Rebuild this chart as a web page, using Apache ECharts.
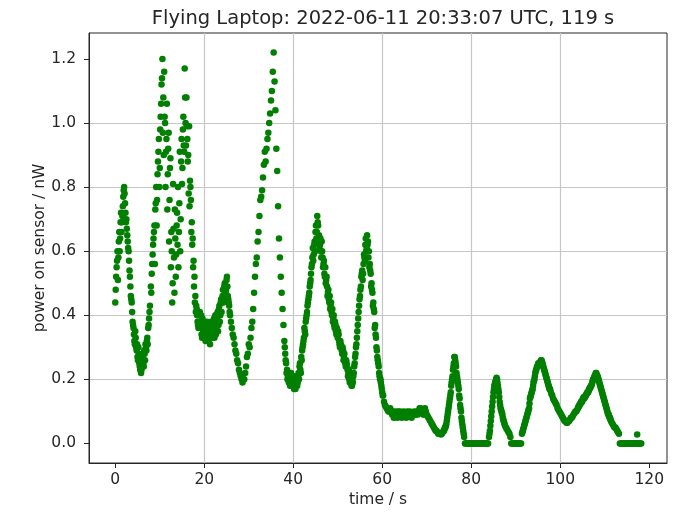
<!DOCTYPE html>
<html>
<head>
<meta charset="utf-8">
<script src="https://cdn.jsdelivr.net/npm/echarts@6/dist/echarts.min.js"></script>
<style>
html,body{margin:0;padding:0;background:#fff;}
#chart{width:689px;height:513px;}
</style>
</head>
<body>
<div id="chart"></div>
<script>
const titleText = 'Flying Laptop: 2022-06-11 20:33:07 UTC, 119 s';
const xName = 'time / s';
const yName = 'power on sensor / nW';
const xTicks = [0, 20, 40, 60, 80, 100, 120];
const yTicks = [0, 0.2, 0.4, 0.6, 0.8, 1.0, 1.2];

// main samples
const time = [
0,0.2,0.4,0.6,0.8,1,1.2,1.4,1.6,1.8,
2,2.2,2.4,2.6,2.8,3,3.2,3.4,3.6,3.8,
4,4.2,4.4,4.6,4.8,5,5.2,5.4,5.6,5.8,
6,6.2,6.4,6.6,6.8,7,7.2,7.4,7.6,7.8,
8,8.2,8.4,8.6,8.8,9,9.2,9.4,9.6,9.8,
10,10.2,10.4,10.6,10.8,11,11.2,11.4,11.6,11.8,
12,12.2,12.4,12.6,12.8,13,13.2,13.4,13.6,13.8,
14,14.2,14.4,14.6,14.8,15,15.2,15.4,15.6,15.8,
16,16.2,16.4,16.6,16.8,17,17.2,17.4,17.6,17.8,
18,18.2,18.4,18.6,18.8,19,19.2,19.4,19.6,19.8,
20,20.2,20.4,20.6,20.8,21,21.2,21.4,21.6,21.8,
22,22.2,22.4,22.6,22.8,23,23.2,23.4,23.6,23.8,
24,24.2,24.4,24.6,24.8,25,25.2,25.4,25.6,25.8,
26,26.2,26.4,26.6,26.8,27,27.2,27.4,27.6,27.8,
28,28.2,28.4,28.6,28.8,29,29.2,29.4,29.6,29.8,
30,30.2,30.4,30.6,30.8,31,31.2,31.4,31.6,31.8,
32,32.2,32.4,32.6,32.8,33,33.2,33.4,33.6,33.8,
34,34.2,34.4,34.6,34.8,35,35.2,35.4,35.6,35.8,
36,36.2,36.4,36.6,36.8,37,37.2,37.4,37.6,37.8,
38,38.2,38.4,38.6,38.8,39,39.2,39.4,39.6,39.8,
40,40.2,40.4,40.6,40.8,41,41.2,41.4,41.6,41.8,
42,42.2,42.4,42.6,42.8,43,43.2,43.4,43.6,43.8,
44,44.2,44.4,44.6,44.8,45,45.2,45.4,45.6,45.8,
46,46.2,46.4,46.6,46.8,47,47.2,47.4,47.6,47.8,
48,48.2,48.4,48.6,48.8,49,49.2,49.4,49.6,49.8,
50,50.2,50.4,50.6,50.8,51,51.2,51.4,51.6,51.8,
52,52.2,52.4,52.6,52.8,53,53.2,53.4,53.6,53.8,
54,54.2,54.4,54.6,54.8,55,55.2,55.4,55.6,55.8,
56,56.2,56.4,56.6,56.8,57,57.2,57.4,57.6,57.8,
58,58.2,58.4,58.6,58.8,59,59.2,59.4,59.6,59.8,
60,60.2,60.4,60.6,60.8,61,61.2,61.4,61.6,61.8,
62,62.2,62.4,62.6,62.8,63,63.2,63.4,63.6,63.8,
64,64.2,64.4,64.6,64.8,65,65.2,65.4,65.6,65.8,
66,66.2,66.4,66.6,66.8,67,67.2,67.4,67.6,67.8,
68,68.2,68.4,68.6,68.8,69,69.2,69.4,69.6,69.8,
70,70.2,70.4,70.6,70.8,71,71.2,71.4,71.6,71.8,
72,72.2,72.4,72.6,72.8,73,73.2,73.4,73.6,73.8,
74,74.2,74.4,74.6,74.8,75,75.2,75.4,75.6,75.8,
76,76.2,76.4,76.6,76.8,77,77.2,77.4,77.6,77.8,
78,78.2,78.4,78.6,78.8,79,79.2,79.4,79.6,79.8,
80,80.2,80.4,80.6,80.8,81,81.2,81.4,81.6,81.8,
82,82.2,82.4,82.6,82.8,83,83.2,83.4,83.6,83.8,
84,84.2,84.4,84.6,84.8,85,85.2,85.4,85.6,85.8,
86,86.2,86.4,86.6,86.8,87,87.2,87.4,87.6,87.8,
88,88.2,88.4,88.6,88.8,89,89.2,89.4,89.6,89.8,
90,90.2,90.4,90.6,90.8,91,91.2,91.4,91.6,91.8,
92,92.2,92.4,92.6,92.8,93,93.2,93.4,93.6,93.8,
94,94.2,94.4,94.6,94.8,95,95.2,95.4,95.6,95.8,
96,96.2,96.4,96.6,96.8,97,97.2,97.4,97.6,97.8,
98,98.2,98.4,98.6,98.8,99,99.2,99.4,99.6,99.8,
100,100.2,100.4,100.6,100.8,101,101.2,101.4,101.6,101.8,
102,102.2,102.4,102.6,102.8,103,103.2,103.4,103.6,103.8,
104,104.2,104.4,104.6,104.8,105,105.2,105.4,105.6,105.8,
106,106.2,106.4,106.6,106.8,107,107.2,107.4,107.6,107.8,
108,108.2,108.4,108.6,108.8,109,109.2,109.4,109.6,109.8,
110,110.2,110.4,110.6,110.8,111,111.2,111.4,111.6,111.8,
112,112.2,112.4,112.6,112.8,113,113.2,113.4,113.6,113.8,
114,114.2,114.4,114.6,114.8,115,115.2,115.4,115.6,115.8,
116,116.2,116.4,116.6,116.8,117,117.2,117.4,117.6,117.8,
118,118.2,
117.3
];

const power = [
0.44,0.52,0.57,0.51,0.63,0.60,0.69,0.66,0.71,0.77,
0.80,0.75,0.69,0.67,0.63,0.60,0.54,0.49,0.45,0.41,
0.37,0.34,0.31,0.33,0.29,0.27,0.30,0.25,0.23,0.22,
0.25,0.27,0.24,0.28,0.31,0.29,0.33,0.36,0.39,0.43,
0.49,0.53,0.59,0.64,0.68,0.73,0.80,0.76,0.88,0.95,
0.86,1.02,1.12,1.20,1.08,1.16,1.00,0.91,1.06,0.84,
0.97,0.76,0.89,0.66,0.44,0.81,0.58,0.73,0.52,0.68,
0.62,0.55,0.75,0.60,0.88,0.81,0.98,0.93,1.17,1.00,
1.08,0.95,0.90,0.99,0.82,0.76,0.69,0.64,0.57,0.52,
0.46,0.43,0.40,0.37,0.38,0.41,0.36,0.34,0.39,0.35,
0.33,0.37,0.34,0.38,0.35,0.32,0.36,0.34,0.37,0.33,
0.35,0.39,0.36,0.34,0.38,0.41,0.37,0.43,0.40,0.45,
0.44,0.48,0.46,0.50,0.47,0.51,0.49,0.45,0.43,0.40,
0.38,0.36,0.34,0.33,0.31,0.29,0.28,0.26,0.25,0.23,
0.22,0.21,0.20,0.19,0.20,0.20,0.22,0.24,0.27,0.28,
0.31,0.30,0.33,0.36,0.38,0.42,0.47,0.52,0.56,0.58,
0.63,0.66,0.71,0.76,0.77,0.79,0.83,0.87,0.91,0.88,
0.92,0.95,0.97,1.00,1.03,1.07,1.10,1.16,1.22,1.13,
1.04,0.92,0.85,0.74,0.64,0.58,0.52,0.47,0.42,0.37,
0.32,0.28,0.25,0.23,0.21,0.19,0.22,0.20,0.18,0.21,
0.19,0.17,0.20,0.18,0.21,0.19,0.22,0.24,0.23,0.27,
0.29,0.31,0.33,0.35,0.38,0.40,0.43,0.45,0.47,0.50,
0.53,0.56,0.61,0.59,0.63,0.66,0.64,0.71,0.68,0.65,
0.62,0.60,0.63,0.58,0.56,0.53,0.55,0.51,0.49,0.47,
0.45,0.46,0.43,0.41,0.42,0.39,0.37,0.38,0.35,0.36,
0.33,0.34,0.31,0.32,0.30,0.28,0.29,0.27,0.26,0.24,
0.25,0.23,0.22,0.20,0.21,0.19,0.18,0.19,0.22,0.25,
0.28,0.31,0.35,0.39,0.43,0.46,0.49,0.53,0.51,0.56,
0.58,0.62,0.60,0.65,0.63,0.60,0.56,0.53,0.50,0.47,
0.44,0.41,0.37,0.33,0.29,0.26,0.24,0.21,0.20,0.18,
0.16,0.15,0.13,0.12,0.115,0.11,0.105,0.10,0.10,0.11,
0.10,0.09,0.10,0.08,0.09,0.10,0.09,0.08,0.10,0.09,
0.10,0.09,0.08,0.09,0.10,0.09,0.09,0.08,0.10,0.09,
0.09,0.10,0.09,0.08,0.09,0.09,0.10,0.09,0.09,0.10,
0.09,0.10,0.11,0.11,0.10,0.10,0.09,0.09,0.11,0.10,
0.09,0.085,0.08,0.075,0.07,0.065,0.06,0.055,0.05,0.045,
0.04,0.04,0.035,0.03,0.03,0.03,0.028,0.03,0.035,0.04,
0.045,0.05,0.06,0.08,0.10,0.12,0.14,0.16,0.19,0.21,
0.24,0.27,0.26,0.24,0.21,0.19,0.17,0.14,0.11,0.08,
0.06,0.04,0.02,0,0,0,0,0,0,0,
0,0,0,0,0,0,0,0,0,0,
0,0,0,0,0,0,0,0,0,0,
0.02,0.04,0.07,0.10,0.13,0.16,0.18,0.19,0.20,0.20,
0.18,0.16,0.13,0.11,0.10,0.09,0.075,0.065,0.055,0.05,
0.045,0.04,0.035,0.03,0.02,0,0,0,0,0,
0,0,0,0,0,0,0,0.03,0.04,0.05,
0.06,0.07,0.08,0.09,0.10,0.11,0.14,0.15,0.16,0.17,
0.19,0.20,0.22,0.23,0.24,0.245,0.25,0.25,0.255,0.26,
0.25,0.24,0.23,0.22,0.21,0.20,0.19,0.18,0.17,0.165,
0.155,0.15,0.14,0.135,0.13,0.125,0.12,0.11,0.105,0.10,
0.095,0.09,0.085,0.08,0.075,0.07,0.07,0.065,0.065,0.07,
0.07,0.075,0.08,0.08,0.085,0.09,0.095,0.10,0.10,0.105,
0.11,0.115,0.12,0.125,0.13,0.135,0.14,0.14,0.145,0.15,
0.155,0.16,0.165,0.17,0.175,0.18,0.19,0.20,0.205,0.21,
0.22,0.215,0.21,0.20,0.19,0.18,0.17,0.16,0.15,0.14,
0.13,0.12,0.11,0.10,0.09,0.085,0.08,0.07,0.065,0.06,
0.055,0.05,0.05,0.045,0.04,0.035,0.03,0,0,0,
0,0,0,0,0,0,0,0,0,0,
0,0,0,0,0,0,0,0,0,0,
0,0,
0.028
];

// in-between samples where the trace is dense
const timeMid = [
0.1,0.3,0.5,0.7,0.9,1.1,1.3,1.5,1.7,1.9,
2.1,2.3,2.5,2.7,2.9,3.1,3.3,3.5,3.7,3.9,
4.1,4.3,4.5,4.7,4.9,5.1,5.3,5.5,5.7,5.9,
6.1,6.3,6.5,6.7,6.9,7.1,7.3,7.5,7.7,
8.1,8.3,8.5,8.7,8.9,9.1,9.3,9.5,9.7,9.9,
10.1,10.3,10.5,10.7,10.9,11.1,11.3,11.5,11.7,11.9,
12.1,12.3,12.5,12.7,12.9,13.1,13.3,13.5,13.7,13.9,
14.1,14.3,14.5,14.7,14.9,15.1,15.3,15.5,15.7,15.9,
16.1,16.3,16.5,16.7,16.9,17.1,17.3,17.5,17.7,17.9,
18.1,18.3,18.5,18.7,
19.1,19.3,19.5,19.7,19.9,20.1,20.3,20.5,20.7,20.9,
21.1,21.3,21.5,21.7,21.9,22.1,22.3,22.5,22.7,22.9,
23.1,23.3,23.5,23.7,23.9,24.1,24.3,24.5,24.7,24.9,
25.1,25.3,25.5,25.7,
38.1,38.3,38.5,38.7,38.9,39.1,39.3,39.5,39.7,39.9,
40.1,40.3,40.5,40.7,40.9,41.1,41.3,41.5,41.7,41.9,
42.1,42.3,42.5,42.7,42.9,43.1,43.3,43.5,43.7,43.9,
44.1,44.3,44.5,44.7,44.9,45.1,45.3,45.5,45.7,45.9,
46.1,46.3,46.5,46.7,46.9,47.1,47.3,47.5,47.7,47.9,
48.1,48.3,48.5,48.7,48.9,49.1,49.3,49.5,49.7,49.9,
50.1,50.3,50.5,50.7,50.9,51.1,51.3,51.5,51.7,51.9,
52.1,52.3,52.5,52.7,52.9,53.1,53.3,53.5,53.7,53.9,
54.1,54.3,54.5,54.7,54.9,55.1,55.3,55.5,55.7,55.9,
56.1,56.3,56.5,56.7,56.9,57.1,57.3,57.5,57.7,57.9,
58.1,58.3,58.5,58.7,58.9,59.1,59.3,59.5,59.7,59.9,
60.1,
73.9,74.1,74.3,74.5,74.7,74.9,75.1,75.3,75.5,75.7,
75.9,76.1,76.3,76.5,76.7,76.9,77.1,77.3,77.5,77.7,
77.9,78.1,78.3,
84.1,84.3,84.5,84.7,84.9,85.1,85.3,85.5,85.7,85.9,
86.1,86.3,86.5,86.7,86.9,87.1,87.3,87.5,
91.5,91.7,91.9,92.1,92.3,92.5,92.7,92.9,93.1,93.3,
93.5,93.7,93.9,94.1,94.3,94.5,94.7,94.9,95.1,95.3,
95.5,95.7,95.9,96.1,96.3,96.5,96.7,96.9,97.1,97.3,
97.5,97.7,
104.1,104.3,104.5,104.7,104.9,105.1,105.3,105.5,105.7,105.9,
106.1,106.3,106.5,106.7,106.9,107.1,107.3,107.5,107.7,107.9,
108.1,108.3,108.5,108.7,108.9,109.1,109.3,109.5,109.7,109.9,
110.1,110.3,110.5,110.7,110.9,111.1,111.3
];

const powerMid = [
0.48,0.55,0.60,0.58,0.66,0.64,0.72,0.69,0.74,0.79,
0.78,0.72,0.70,0.65,0.61,0.57,0.52,0.46,0.44,0.38,
0.36,0.32,0.35,0.30,0.31,0.26,0.28,0.24,0.26,0.23,
0.28,0.25,0.29,0.26,0.30,0.32,0.31,0.37,0.41,
0.47,0.56,0.62,0.66,0.56,0.75,0.68,0.84,0.91,0.80,
0.98,1.06,1.14,0.97,0.90,1.02,0.80,0.95,0.73,0.92,
0.63,0.86,0.55,0.60,0.50,0.67,0.47,0.64,0.59,0.72,
0.80,0.66,0.91,0.70,0.95,0.86,1.02,0.91,1.08,0.93,
0.99,0.88,0.78,0.74,0.80,0.66,0.62,0.55,0.49,0.44,
0.41,0.42,0.38,0.36,
0.37,0.40,0.33,0.36,0.38,0.35,0.32,0.36,0.33,0.37,
0.35,0.31,0.38,0.35,0.34,0.37,0.33,0.40,0.36,0.39,
0.35,0.42,0.38,0.44,0.41,0.46,0.44,0.49,0.45,0.48,
0.52,0.46,0.44,0.41,
0.30,0.26,0.22,0.20,0.22,0.21,0.18,0.22,0.20,0.19,
0.21,0.18,0.17,0.20,0.18,0.21,0.20,0.25,0.22,0.26,
0.30,0.32,0.36,0.34,0.39,0.41,0.44,0.46,0.49,0.51,
0.55,0.58,0.57,0.62,0.60,0.68,0.66,0.69,0.63,0.61,
0.64,0.58,0.60,0.55,0.57,0.52,0.50,0.52,0.46,0.48,
0.44,0.42,0.44,0.40,0.38,0.40,0.36,0.37,0.34,0.34,
0.35,0.32,0.30,0.31,0.29,0.30,0.26,0.28,0.25,0.26,
0.24,0.21,0.23,0.19,0.20,0.18,0.20,0.21,0.24,0.27,
0.30,0.33,0.37,0.41,0.45,0.48,0.52,0.54,0.53,0.59,
0.57,0.64,0.61,0.62,0.58,0.55,0.54,0.49,0.48,0.43,
0.42,0.36,0.34,0.30,0.27,0.25,0.22,0.20,0.19,0.17,
0.15,
0.04,0.05,0.055,0.07,0.09,0.11,0.13,0.15,0.18,0.20,
0.23,0.25,0.27,0.25,0.22,0.20,0.18,0.15,0.12,0.10,
0.07,0.05,0.03,
0.03,0.055,0.085,0.115,0.145,0.17,0.185,0.195,0.205,0.19,
0.17,0.145,0.12,0.105,0.095,0.08,0.07,0.06,
0.035,0.045,0.055,0.065,0.075,0.085,0.095,0.105,0.125,0.145,
0.155,0.165,0.18,0.195,0.21,0.225,0.235,0.24,0.25,0.245,
0.255,0.26,0.255,0.245,0.235,0.225,0.215,0.205,0.195,0.185,
0.175,0.17,
0.115,0.12,0.125,0.13,0.13,0.14,0.145,0.145,0.15,0.155,
0.16,0.16,0.17,0.175,0.18,0.185,0.195,0.20,0.21,0.215,
0.22,0.21,0.205,0.195,0.185,0.175,0.165,0.155,0.145,0.135,
0.125,0.115,0.105,0.095,0.09,0.08,0.075
];

if (time.length !== power.length) console.error('length mismatch main', time.length, power.length);
if (timeMid.length !== powerMid.length) console.error('length mismatch mid', timeMid.length, powerMid.length);
const points = time.map((t, i) => [t, power[i]])
  .concat(timeMid.map((t, i) => [t, powerMid[i]]));

const textColor = '#262626';
const chart = echarts.init(document.getElementById('chart'), null, {renderer: 'canvas'});
chart.setOption({
  animation: false,
  backgroundColor: '#ffffff',
  title: {
    text: titleText,
    left: 378,
    textAlign: 'center',
    top: 4,
    textStyle: {fontFamily: 'DejaVu Sans', fontSize: 19.5, fontWeight: 'normal', color: textColor}
  },
  grid: {left: 89, top: 33, width: 578, height: 430, show: true, borderColor: '#262626', borderWidth: 1, containLabel: false},
  xAxis: {
    type: 'value', min: -5.9, max: 124, splitNumber: 6,
    name: xName, nameLocation: 'middle', nameGap: 29, nameMoveOverlap: false,
    nameTextStyle: {fontFamily: 'DejaVu Sans', fontSize: 15.5, color: textColor},
    axisLine: {show: true, onZero: false, lineStyle: {color: '#262626', width: 1}},
    axisTick: {show: true, length: 5, inside: false, customValues: xTicks, lineStyle: {color: '#262626'}},
    axisLabel: {customValues: xTicks, margin: 9, fontFamily: 'DejaVu Sans', fontSize: 15.5, color: textColor,
      formatter: v => String(Math.round(v))},
    splitLine: {show: true, showMinLine: false, showMaxLine: false, lineStyle: {color: '#c6c6c6', width: 1.2}}
  },
  yAxis: {
    type: 'value', min: -0.061, max: 1.281, splitNumber: 7,
    name: yName, nameLocation: 'middle', nameGap: 41, nameRotate: 90, nameMoveOverlap: false,
    nameTextStyle: {fontFamily: 'DejaVu Sans', fontSize: 15.5, color: textColor},
    axisLine: {show: true, onZero: false, lineStyle: {color: '#262626', width: 1}},
    axisTick: {show: true, length: 5, inside: false, customValues: yTicks, lineStyle: {color: '#262626'}},
    axisLabel: {customValues: yTicks, margin: 13, fontFamily: 'DejaVu Sans', fontSize: 15.5, color: textColor,
      formatter: v => v.toFixed(1)},
    splitLine: {show: true, showMinLine: false, showMaxLine: false, lineStyle: {color: '#c6c6c6', width: 1.2}}
  },
  series: [{
    type: 'scatter',
    data: points,
    symbol: 'circle',
    symbolSize: 6.5,
    itemStyle: {color: '#007f00', opacity: 1},
    large: false,
    silent: true
  }]
});
</script>
</body>
</html>
